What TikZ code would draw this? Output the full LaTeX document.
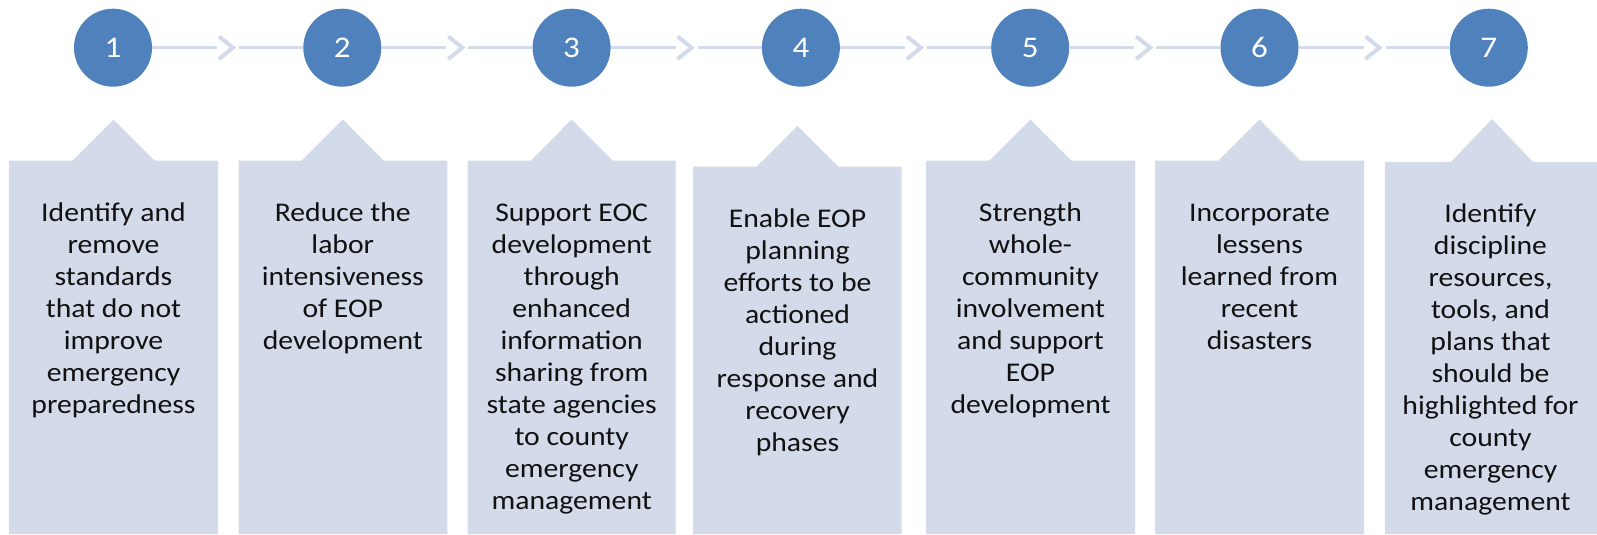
\documentclass[tikz,border=0pt]{standalone}
\usepackage{fontspec}
\setmainfont{Carlito}[FakeStretch=1.1]
\definecolor{circblue}{HTML}{4F81BD}
\definecolor{boxfill}{HTML}{D3DAE9}
\definecolor{linecol}{HTML}{D3DAE9}
\definecolor{txt}{HTML}{111111}
\tikzset{
  stepcircle/.style={circle, fill=circblue, minimum size=39pt, inner sep=0pt,
    text=white, font=\fontsize{15pt}{18pt}\selectfont},
  conn/.style={draw=linecol, line width=1.5pt},
  chev/.style={draw=linecol, line width=2pt, miter limit=10},
  boxshape/.style={fill=boxfill, draw=none},
  boxtext/.style={anchor=north, align=center, inner sep=0pt, text=txt,
    font=\fontsize{13.5pt}{16pt}\selectfont},
}
\newcommand{\stepbox}[5]{% left right top apexx apexy
  \fill[boxshape] (#1,534) -- (#1,#3) -- ({#4-41},#3) -- (#4,#5) -- ({#4+41},#3) -- (#2,#3) -- (#2,534) -- cycle;
}
\newcommand{\fl}{\rule{0pt}{11pt}}
\begin{document}
\begin{tikzpicture}[x=0.5pt,y=-0.5pt]
\useasboundingbox (0,0) rectangle (1597,535);
% circles
\foreach \i/\x in {1/113,2/342.3,3/571.6,4/800.9,5/1030.2,6/1259.5,7/1488.8}{
  \node[stepcircle] (c\i) at (\x,47.7) {\i};
  \coordinate (k\i) at ({\x+104},47.7);
  \coordinate (m\i) at ({\x+126},47.7);
}
% connectors
\foreach \i/\j/\x in {1/2/113,2/3/342.3,3/4/571.6,4/5/800.9,5/6/1030.2,6/7/1259.5}{
  \draw[conn] (c\i) -- (k\i);
  \draw[chev] ({\x+106},36.5) -- ({\x+120},47.7) -- ({\x+106},59);
  \draw[conn] (m\i) -- (c\j);
}
% boxes
\stepbox{9}{218}{160.7}{113.5}{119.5}
\stepbox{238.5}{447.3}{160.7}{342.8}{119.5}
\stepbox{467.7}{675.7}{160.7}{571.7}{119.5}
\stepbox{693}{901.7}{166.7}{797.5}{126}
\stepbox{926}{1135}{160.7}{1030.5}{119.5}
\stepbox{1155}{1364}{160.7}{1259.5}{119.5}
\stepbox{1385}{1597}{162}{1492}{119}
% texts
\node[boxtext] (t1) at (113.5,198.7) {\fl Identify and\\remove\\standards\\that do not\\improve\\emergency\\preparedness};
\node[boxtext] (t2) at (342.8,198.7) {\fl Reduce the\\labor\\intensiveness\\of EOP\\development};
\node[boxtext] (t3) at (571.7,198.7) {\fl Support EOC\\development\\through\\enhanced\\information\\sharing from\\state agencies\\to county\\emergency\\management};
\node[boxtext] (t4) at (797.5,204.7) {\fl Enable EOP\\planning\\efforts to be\\actioned\\during\\response and\\recovery\\phases};
\node[boxtext] (t5) at (1030.5,198.7) {\fl Strength\\whole-\\community\\involvement\\and support\\EOP\\development};
\node[boxtext] (t6) at (1259.5,198.7) {\fl Incorporate\\lessens\\learned from\\recent\\disasters};
\node[boxtext] (t7) at (1490.5,200) {\fl Identify\\discipline\\resources,\\tools, and\\plans that\\should be\\highlighted for\\county\\emergency\\management};
\end{tikzpicture}
\end{document}
